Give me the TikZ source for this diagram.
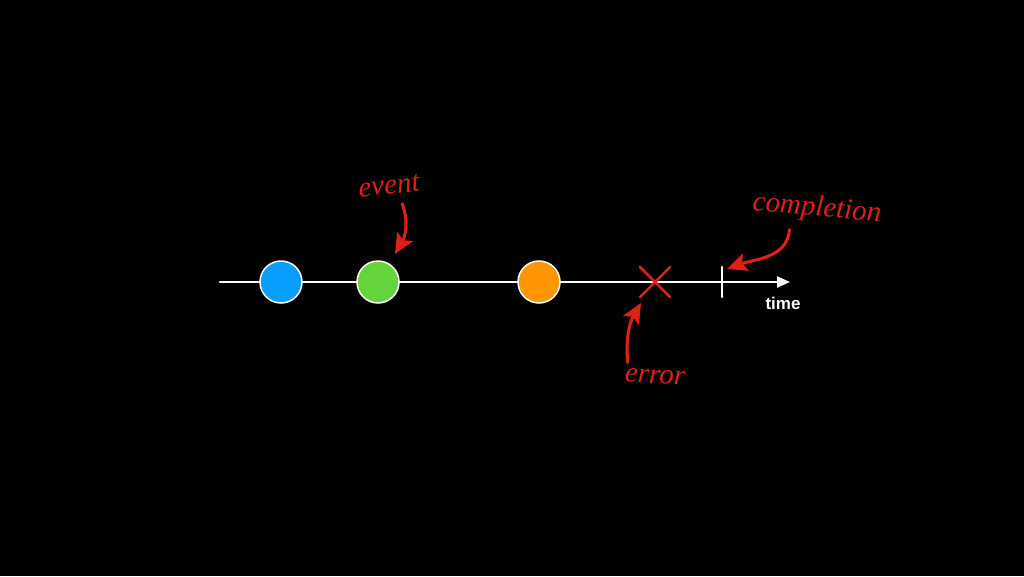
\documentclass[tikz,border=0pt]{standalone}
\usepackage{fontspec}
\setmainfont{Liberation Serif}
\setsansfont{Liberation Sans}
\usetikzlibrary{arrows.meta}
\definecolor{evblue}{RGB}{8,158,255}
\definecolor{evgreen}{RGB}{100,212,58}
\definecolor{evorange}{RGB}{255,149,0}
\definecolor{notered}{RGB}{222,32,22}

\begin{document}
\begin{tikzpicture}[line cap=round,line join=round,x=1pt,y=-1pt,
  event/.style={circle,draw=white,line width=1.5pt,minimum size=42pt,inner sep=0pt},
  note/.style={text=notered,font=\itshape\fontsize{29}{31}\selectfont},
  pointer/.style={draw=notered,line width=3pt,-{Triangle[length=20pt,width=18pt,inset=4pt]}}]
\fill[black] (0,0) rectangle (1024,576);
\useasboundingbox (0,0) rectangle (1024,576);

% time axis
\coordinate (start) at (220,282);
\coordinate (end) at (790,282);
\draw [white,line width=2.2pt,-{Triangle[length=13pt,width=11pt]}] (start)-- (end);
\draw (783,303) node[text=white,font=\sffamily\bfseries\fontsize{17}{19}\selectfont] (time) {time};

% events
\draw (281,282) node[event,fill=evblue] (blue) {};
\draw (378,282) node[event,fill=evgreen] (green) {};
\draw (539,282) node[event,fill=evorange] (orange) {};

% error and completion
\coordinate (error) at (655,282);
\draw [notered,line width=2.5pt] (640,267)-- (670,297);
\draw [notered,line width=2.5pt] (640,297)-- (670,267);
\coordinate (done) at (722,282);
\draw [white,line width=2.5pt] (722,267)-- (722,297);

% notes
\draw (389,186) node[note,rotate=6] (eventlbl) {event};
\draw (817,209) node[note,rotate=-5] (donelbl) {completion};
\draw (655,377) node[note,rotate=-4] (errorlbl) {error};

\coordinate (eventtip) at (395,254);
\coordinate (donetip) at (727,269);
\coordinate (errortip) at (641,303);
\draw [pointer] (eventlbl.south)+(12,6) to[out=-70,in=60] (eventtip);
\draw [pointer] (donelbl.south)+(-26,4) to[out=-95,in=20] (donetip);
\draw [pointer] (errorlbl.north)+(-28,-4) to[out=95,in=-120] (errortip);
\end{tikzpicture}
\end{document}
